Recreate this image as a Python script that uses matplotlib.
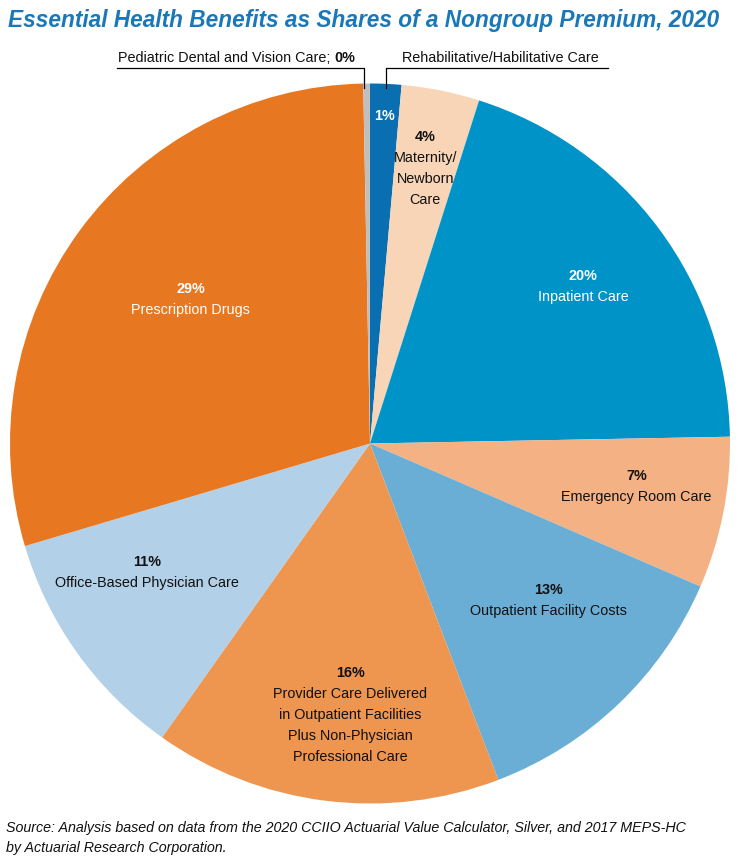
import numpy as np
import matplotlib.pyplot as plt

plt.rcParams['font.family'] = ['Liberation Sans', 'DejaVu Sans']

# data, clockwise from 12 o'clock
categories = ['Rehabilitative/Habilitative Care', 'Maternity/\nNewborn\nCare', 'Inpatient Care',
              'Emergency Room Care', 'Outpatient Facility Costs',
              'Provider Care Delivered\nin Outpatient Facilities\nPlus Non-Physician\nProfessional Care',
              'Office-Based Physician Care', 'Prescription Drugs', 'Pediatric Dental and Vision Care']
shares = [1.4, 3.5, 19.8, 6.8, 12.7, 15.6, 10.6, 29.3, 0.3]
pct_labels = ['1%', '4%', '20%', '7%', '13%', '16%', '11%', '29%', '0%']

colors = ['#0a6fb0', '#f9d5b8', '#0093c8', '#f4b183', '#6aaed6',
          '#ee9550', '#b2d0e8', '#e87722', '#bfbfbf']
text_colors = ['white', '#111111', 'white', '#111111', '#111111',
               '#111111', '#111111', 'white', '#111111']
# label placement: radius fraction, clockwise angle offset (deg) from wedge middle
label_r = [0.91, 0.78, 0.735, 0.75, 0.66, 0.756, 0.715, 0.64, None]
label_dang = [0, 0, 0.4, -2, -5, -3, 5.6, 2.6, 0]

fig = plt.figure(figsize=(7.39, 8.64), dpi=100)
ax = fig.add_axes([10 / 739, 60.5 / 864, 720 / 739, 720 / 864])
wedges, _ = ax.pie(shares, colors=colors, startangle=90, counterclock=False,
                   radius=1, wedgeprops=dict(linewidth=0))
ax.set_xlim(-1, 1)
ax.set_ylim(-1, 1)
ax.set_aspect('equal')
ax.axis('off')

fs = 10.4
step = 21 / 360
for i, w in enumerate(wedges):
    if label_r[i] is None:
        continue
    mid = np.deg2rad((w.theta1 + w.theta2) / 2 - label_dang[i])
    cx, cy = label_r[i] * np.cos(mid), label_r[i] * np.sin(mid)
    if i == 0:
        lines = [pct_labels[i]]
    else:
        lines = [pct_labels[i]] + categories[i].split('\n')
    n = len(lines)
    for j, line in enumerate(lines):
        y = cy + ((n - 1) / 2 - j) * step
        ax.text(cx, y, line, ha='center', va='center', fontsize=fs,
                color=text_colors[i], fontweight='bold' if j == 0 else 'normal')

# leader lines for the two thin slices at the top
line_y = (443.5 - 68) / 360
line_bot = (443.5 - 88) / 360
txt_y = (443.5 - 58.5) / 360
ped = wedges[-1]
reh = wedges[0]
px = np.cos(np.deg2rad((ped.theta1 + ped.theta2) / 2)) * 0.99 - 0.006
rx = np.cos(np.deg2rad((reh.theta1 + reh.theta2) / 2)) * 0.99 + 0.002
ax.plot([-0.703, px, px], [line_y, line_y, line_bot], color='black', lw=0.9, clip_on=False)
ax.plot([0.66, rx, rx], [line_y, line_y, line_bot], color='black', lw=0.9, clip_on=False)

t0 = ax.text(-0.042, txt_y, pct_labels[-1], ha='right', va='center', fontsize=fs,
             fontweight='bold', color='#111111')
fig.canvas.draw()
bb = t0.get_window_extent(fig.canvas.get_renderer())
x_left = ax.transData.inverted().transform((bb.x0, bb.y0))[0]
ax.text(x_left, txt_y, categories[-1] + '; ', ha='right', va='center', fontsize=fs,
        color='#111111')
ax.text((402 - 370) / 360, txt_y, categories[0], ha='left', va='center', fontsize=fs,
        color='#111111')

fig.text(8 / 739, 1 - 21 / 864, 'Essential Health Benefits as Shares of a Nongroup Premium, 2020',
         ha='left', va='center', fontsize=16.3, fontweight='bold', fontstyle='italic',
         color='#1a78b8')
fig.text(6 / 739, 1 - 828 / 864,
         'Source: Analysis based on data from the 2020 CCIIO Actuarial Value Calculator, Silver, and 2017 MEPS-HC',
         ha='left', va='center', fontsize=10.3, fontstyle='italic', color='#111111')
fig.text(6 / 739, 1 - 848 / 864, 'by Actuarial Research Corporation.',
         ha='left', va='center', fontsize=10.3, fontstyle='italic', color='#111111')

fig.savefig('out.png', dpi=100)
